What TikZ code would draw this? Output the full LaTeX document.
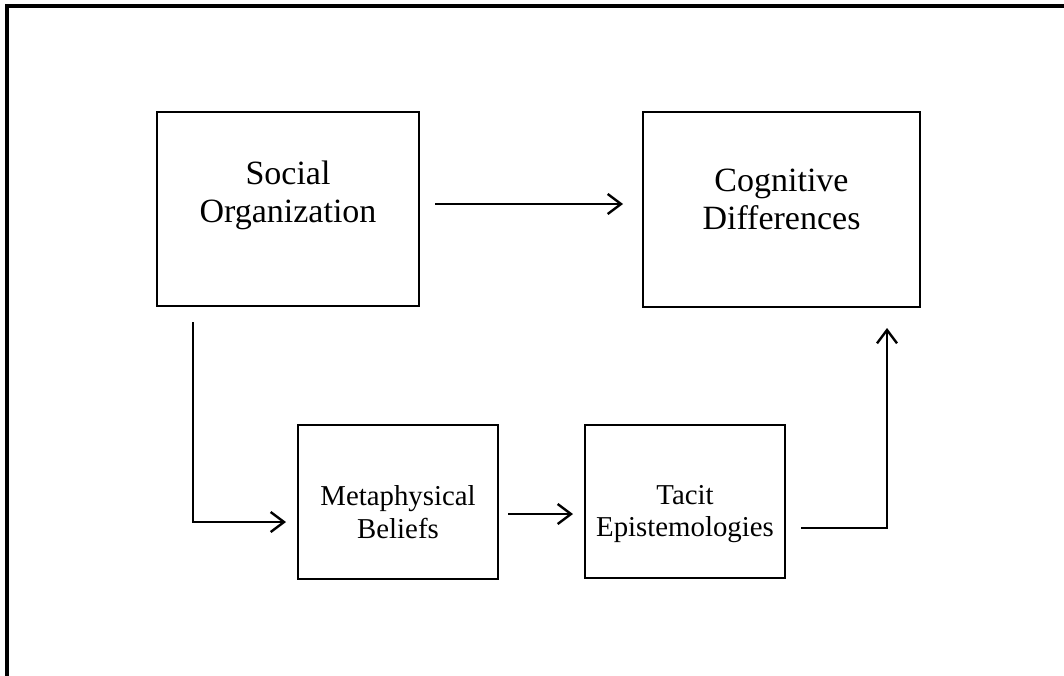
\documentclass[tikz,border=0pt]{standalone}
\usepackage{fontspec}
\setmainfont{Liberation Serif}
\usetikzlibrary{arrows.meta}
\begin{document}
\begin{tikzpicture}[x=0.75pt,y=-0.75pt,
  box/.style={draw, line width=1.5pt, rectangle, inner sep=0pt, fill=white},
  bigtxt/.style={align=center, font=\fontsize{25.5}{28.5}\selectfont, inner sep=0pt},
  smalltxt/.style={align=center, font=\fontsize{21.6}{24.5}\selectfont, inner sep=0pt},
  arr/.style={line width=1.8pt, -{Straight Barb[length=10pt,width=15pt]}},
  frameline/.style={line width=2.4pt}]
\useasboundingbox (0,0) rectangle (1064,675);
\draw[frameline] (7,690) -- (7,6) -- (1080,6);
% boxes
\node[box, minimum width=196.5pt, minimum height=145.5pt] (SO) at (288,209) {};
\node[box, minimum width=207.75pt, minimum height=146.25pt] (CD) at (781.5,209.5) {};
\node[box, minimum width=150pt, minimum height=115.5pt] (MB) at (398,502) {};
\node[box, minimum width=150pt, minimum height=114.75pt] (TE) at (685,501.5) {};
% texts
\node[bigtxt] (SOt) at (288,195) {Social\\Organization};
\node[bigtxt] (CDt) at (781.5,199) {Cognitive\\Differences};
\node[smalltxt] (MBt) at (398,512) {Metaphysical\\Beliefs};
\node[smalltxt] (TEt) at (685,514) {Tacit\\Epistemologies};
% connector end points
\coordinate (a1s) at (435,204);
\coordinate (a1e) at (623,204);
\coordinate (a2s) at (193,322);
\coordinate (a2e) at (286,522);
\coordinate (a3s) at (508,514);
\coordinate (a3e) at (573,514);
\coordinate (a4s) at (801,528);
\coordinate (a4e) at (887,328);
% connectors
\draw[arr] (a1s) -- (a1e);
\draw[arr] (a2s) |- (a2e);
\draw[arr] (a3s) -- (a3e);
\draw[arr] (a4s) -| (a4e);
\end{tikzpicture}
\end{document}
